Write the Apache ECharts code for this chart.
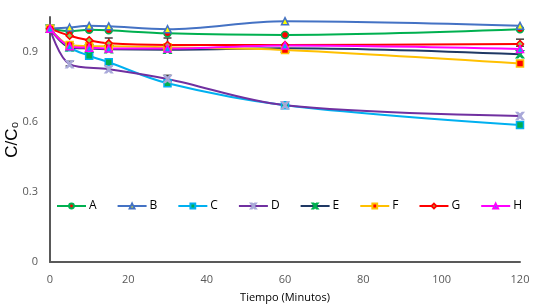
<!DOCTYPE html>
<html>
<head>
<meta charset="utf-8">
<script src="https://cdn.jsdelivr.net/npm/echarts@6/dist/echarts.min.js"></script>
<style>
  html, body { margin: 0; padding: 0; background: #fff; }
  #chart { width: 535px; height: 305px; }
</style>
</head>
<body>
<div id="chart"></div>
<script>
const times = [0, 5, 10, 15, 30, 60, 120];
const timesD = [0, 5, 15, 30, 60, 120];

const seriesA = [1.0, 0.99, 0.995, 0.993, 0.98, 0.973, 0.997];
const seriesB = [1.0, 1.005, 1.012, 1.01, 0.998, 1.032, 1.012];
const seriesC = [1.0, 0.92, 0.884, 0.856, 0.766, 0.672, 0.587];
const seriesD = [1.0, 0.848, 0.826, 0.784, 0.672, 0.626];
const seriesE = [1.0, 0.92, 0.915, 0.912, 0.91, 0.916, 0.89];
const seriesF = [1.0, 0.93, 0.925, 0.925, 0.92, 0.909, 0.851];
const seriesG = [1.0, 0.97, 0.95, 0.937, 0.93, 0.93, 0.934];
const seriesH = [1.0, 0.925, 0.918, 0.915, 0.915, 0.928, 0.913];

// [time, low, high]
const errorBars = [
  [5, 0.84, 0.86],
  [15, 0.905, 0.96],
  [30, 0.905, 0.96],
  [30, 0.77, 0.8],
  [120, 0.925, 0.955]
];

const yTicks = [0, 0.3, 0.6, 0.9];

function pairs(xs, ys) {
  return xs.map((t, i) => [t, ys[i]]);
}

const xPath = 'path://M0,0 L2,0 L5,3 L8,0 L10,0 L6,5 L10,10 L8,10 L5,7 L2,10 L0,10 L4,5 Z';

function line(name, xs, ys, lineColor, symbol, fill, border) {
  return {
    name: name,
    type: 'line',
    smooth: 0.35,
    data: pairs(xs, ys),
    symbol: symbol,
    symbolSize: 7,
    connectNulls: true,
    lineStyle: { color: lineColor, width: 2 },
    itemStyle: { color: fill, borderColor: border, borderWidth: 1.5 },
    emphasis: { disabled: true },
    z: 3
  };
}

const chart = echarts.init(document.getElementById('chart'));

const option = {
  animation: false,
  textStyle: { fontFamily: 'Open Sans' },
  grid: { left: 50, right: 15, top: 17, bottom: 43, containLabel: false, outerBoundsMode: 'none' },
  legend: {
    left: 51,
    top: 195,
    itemWidth: 29,
    itemHeight: 6,
    itemGap: 20,
    textStyle: { color: '#000', fontSize: 12, padding: [0, 0, 0, -2] },
    data: ['A', 'B', 'C', 'D', 'E', 'F', 'G', 'H']
  },
  xAxis: {
    type: 'value',
    min: 0,
    max: 120,
    interval: 20,
    name: 'Tiempo (Minutos)',
    nameLocation: 'middle',
    nameGap: 30,
    nameMoveOverlap: false,
    nameTextStyle: { color: '#000', fontSize: 11 },
    axisLine: { lineStyle: { color: '#595959', width: 2 } },
    axisTick: { show: false },
    axisLabel: { color: '#595959', fontSize: 11, margin: 12 },
    splitLine: { show: false }
  },
  yAxis: {
    type: 'value',
    min: 0,
    max: 1.05,
    interval: 0.3,
    name: 'C/C₀',
    nameLocation: 'middle',
    nameGap: 29,
    nameMoveOverlap: false,
    nameTextStyle: { color: '#000', fontSize: 17, fontFamily: 'Liberation Sans' },
    axisLine: { show: true, lineStyle: { color: '#595959', width: 2 } },
    axisTick: { show: false },
    axisLabel: {
      color: '#595959',
      fontSize: 11,
      margin: 12,
      showMaxLabel: false,
      formatter: v => (yTicks.indexOf(Math.round(v * 10) / 10) >= 0 ? String(v) : '')
    },
    splitLine: { show: false }
  },
  series: [
    {
      name: 'err',
      type: 'custom',
      z: 2,
      silent: true,
      data: errorBars,
      renderItem: function (params, api) {
        const top = api.coord([api.value(0), api.value(2)]);
        const bot = api.coord([api.value(0), api.value(1)]);
        const s = { stroke: '#404040', lineWidth: 1.5 };
        return {
          type: 'group',
          children: [
            { type: 'line', shape: { x1: top[0], y1: top[1], x2: bot[0], y2: bot[1] }, style: s },
            { type: 'line', shape: { x1: top[0] - 4, y1: top[1], x2: top[0] + 4, y2: top[1] }, style: s },
            { type: 'line', shape: { x1: bot[0] - 4, y1: bot[1], x2: bot[0] + 4, y2: bot[1] }, style: s }
          ]
        };
      }
    },
    line('A', times, seriesA, '#00B050', 'circle', '#FF0000', '#00B050'),
    line('B', times, seriesB, '#4472C4', 'triangle', '#FFFF00', '#4472C4'),
    line('C', times, seriesC, '#00B0F0', 'rect', '#00B050', '#00B0F0'),
    line('D', timesD, seriesD, '#7030A0', xPath, '#7030A0', '#A9A9D9'),
    line('E', times, seriesE, '#1F3864', xPath, '#1F3864', '#00B050'),
    line('F', times, seriesF, '#FFC000', 'rect', '#FF0000', '#FFC000'),
    line('G', times, seriesG, '#FF0000', 'diamond', '#92D050', '#FF0000'),
    line('H', times, seriesH, '#FF00FF', 'triangle', '#00B0F0', '#FF00FF')
  ]
};

chart.setOption(option);
</script>
</body>
</html>
